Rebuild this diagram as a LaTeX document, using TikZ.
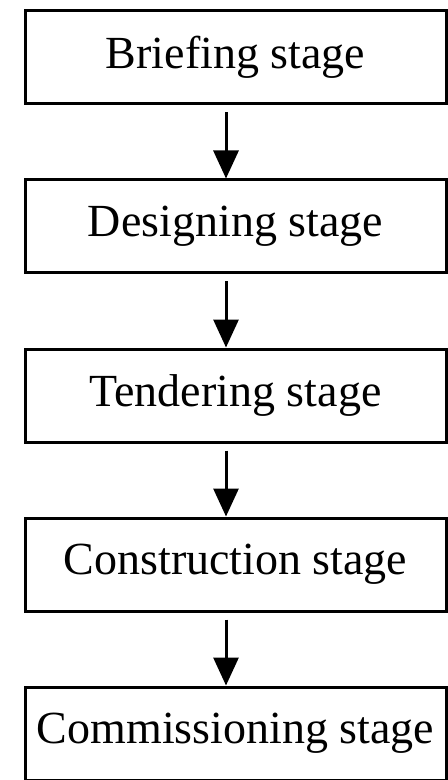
\documentclass[tikz,border=0pt]{standalone}
\usepackage{fontspec}
\setmainfont{Liberation Serif}
\usetikzlibrary{positioning,arrows.meta}
\begin{document}
\begin{tikzpicture}[line width=1.5pt, node distance=36.5pt,
        stagebox/.style={draw, minimum width=210.5pt, minimum height=46.5pt, inner sep=0pt,
            font=\fontsize{23}{27}\selectfont}]
        \useasboundingbox (0,0) rectangle (224pt,-390pt);
        \node[stagebox] (brief) at (117.75pt,-28.75pt) {Briefing stage};
        \node[stagebox, below=of brief] (design) {Designing stage};
        \node[stagebox, below=of design] (tender) {Tendering stage};
        \node[stagebox, below=of tender] (construct) {Construction stage};
        \node[stagebox, below=of construct] (commission) {Commissioning stage};

        \foreach \a/\b in {brief/design, design/tender, tender/construct, construct/commission} {
            \draw[-{Triangle[length=14pt,width=12.5pt]}] ([xshift=-4.75pt,yshift=-3.5pt]\a.south) -- ([xshift=-4.75pt]\b.north);
        }
    \end{tikzpicture}
\end{document}
